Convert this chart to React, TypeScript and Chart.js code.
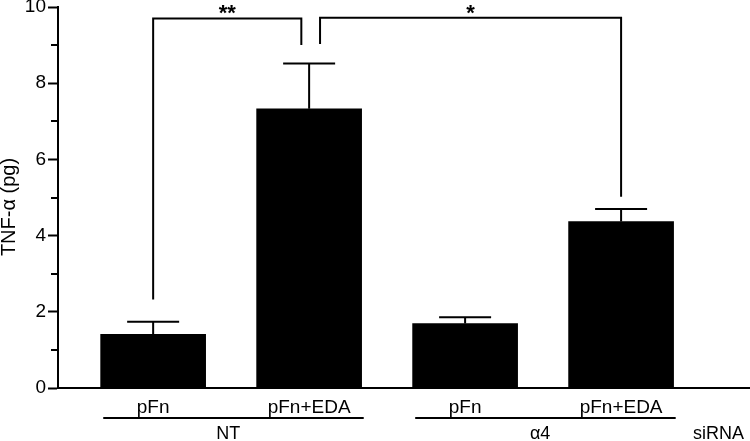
import React, { useEffect, useRef } from 'react';
import { Chart, registerables } from 'chart.js';

Chart.register(...registerables);

// ---- data ----
const categories = ['pFn', 'pFn+EDA', 'pFn', 'pFn+EDA'];
const means = [1.41, 7.33, 1.69, 4.37];
const errorTops = [1.74, 8.52, 1.86, 4.7];
const groupLabels = ['NT', 'α4'];
const groupFirst = [0, 2];
const groupLast = [1, 3];
const yTickValues = [0, 2, 4, 6, 8, 10];
const yTitle = 'TNF-α (pg)';
const rowTitle = 'siRNA';
// significance brackets (x in category units, y in pg)
const sigLabels = ['**', '*'];
const sigLeftX = [0, 1.07];
const sigRightX = [0.95, 3];
const sigLevel = [9.7, 9.72];
const sigLeftBottom = [2.32, 9.03];
const sigRightBottom = [9.0, 5.02];

const FONT = "'Liberation Sans', Arial, Helvetica, sans-serif";

const overlay = {
  id: 'overlay',
  afterDatasetsDraw(chart: any) {
    const { ctx, chartArea, scales } = chart;
    const xs = scales.x;
    const ys = scales.y;
    const px = (v: number) => xs.getPixelForValue(v);
    const py = (v: number) => ys.getPixelForValue(v);
    ctx.save();
    ctx.strokeStyle = '#000';
    ctx.fillStyle = '#000';
    ctx.lineWidth = 2;
    ctx.lineCap = 'butt';

    // minor y ticks
    for (let v = 1; v < 10; v += 2) {
      const y = Math.round(py(v));
      ctx.beginPath();
      ctx.moveTo(chartArea.left - 7, y);
      ctx.lineTo(chartArea.left, y);
      ctx.stroke();
    }

    // error bars (upper only)
    const capHalf = 26;
    means.forEach((m, i) => {
      const x = px(i);
      ctx.beginPath();
      ctx.moveTo(x, py(m));
      ctx.lineTo(x, py(errorTops[i]));
      ctx.moveTo(x - capHalf, py(errorTops[i]));
      ctx.lineTo(x + capHalf, py(errorTops[i]));
      ctx.stroke();
    });

    // significance brackets
    sigLabels.forEach((lab, i) => {
      const xl = px(sigLeftX[i]);
      const xr = px(sigRightX[i]);
      const yl = py(sigLevel[i]);
      ctx.beginPath();
      ctx.moveTo(xl, py(sigLeftBottom[i]));
      ctx.lineTo(xl, yl);
      ctx.lineTo(xr, yl);
      ctx.lineTo(xr, py(sigRightBottom[i]));
      ctx.stroke();
      ctx.font = `bold 22px ${FONT}`;
      ctx.textAlign = 'center';
      ctx.textBaseline = 'alphabetic';
      ctx.fillText(lab, (xl + xr) / 2, yl + 2);
    });

    // category labels
    ctx.font = `19px ${FONT}`;
    ctx.textAlign = 'center';
    ctx.textBaseline = 'alphabetic';
    categories.forEach((c, i) => {
      ctx.fillText(c, px(i), 413);
    });

    // group underlines and labels
    ctx.font = `18px ${FONT}`;
    groupLabels.forEach((g, i) => {
      const x1 = px(groupFirst[i] - 0.32);
      const x2 = px(groupLast[i] + 0.35);
      ctx.beginPath();
      ctx.moveTo(x1, 418);
      ctx.lineTo(x2, 418);
      ctx.stroke();
      ctx.fillText(g, (px(groupFirst[i]) + px(groupLast[i])) / 2 - 3, 439);
    });
    ctx.textAlign = 'right';
    ctx.fillText(rowTitle, 744, 439);

    // y title
    ctx.save();
    ctx.translate(9, 207);
    ctx.rotate(-Math.PI / 2);
    ctx.textAlign = 'center';
    ctx.textBaseline = 'middle';
    ctx.font = `20px ${FONT}`;
    ctx.fillText(yTitle, 0, 0);
    ctx.restore();

    ctx.restore();
  },
};

export default function App() {
  const ref = useRef<HTMLCanvasElement | null>(null);
  useEffect(() => {
    if (!ref.current) return;
    const chart = new Chart(ref.current, {
      type: 'bar',
      data: {
        datasets: [
          {
            data: means.map((v, i) => ({ x: i, y: v })),
            backgroundColor: '#000',
            borderWidth: 0,
            barThickness: 105,
          },
        ],
      },
      options: {
        animation: false,
        responsive: false,
        devicePixelRatio: 1,
        layout: { padding: { top: 7, right: 1, left: 0, bottom: 0 } },
        plugins: {
          legend: { display: false },
          tooltip: { enabled: false },
          title: { display: false },
        },
        scales: {
          x: {
            type: 'linear',
            min: -0.61,
            max: 3.82,
            offset: false,
            ticks: { display: false },
            grid: { display: false },
            border: { display: true, color: '#000', width: 2 },
            afterFit: (s: any) => {
              s.height = 53;
              s.paddingLeft = 0;
              s.paddingRight = 0;
            },
          },
          y: {
            min: 0,
            max: 10,
            ticks: {
              stepSize: 1,
              color: '#000',
              padding: 2,
              autoSkip: false,
              font: { family: FONT, size: 19, lineHeight: 1 },
              callback: (v: any) => (yTickValues.includes(Number(v)) ? String(v) : ''),
            },
            grid: {
              display: true,
              drawOnChartArea: false,
              drawTicks: true,
              tickLength: 10,
              tickWidth: 2,
              tickColor: (c: any) =>
                c.tick && yTickValues.includes(c.tick.value) ? '#000' : 'rgba(0,0,0,0)',
            },
            border: { display: true, color: '#000', width: 2 },
            afterFit: (s: any) => {
              s.width = 58;
              s.paddingTop = 0;
              s.paddingBottom = 0;
            },
          },
        },
      },
      plugins: [overlay],
    } as any);
    return () => chart.destroy();
  }, []);
  return (
    <div style={{ position: 'absolute', left: 0, top: 0, width: 750, height: 441, background: '#fff' }}>
      <canvas ref={ref} width={750} height={441} style={{ display: 'block' }} />
    </div>
  );
}
